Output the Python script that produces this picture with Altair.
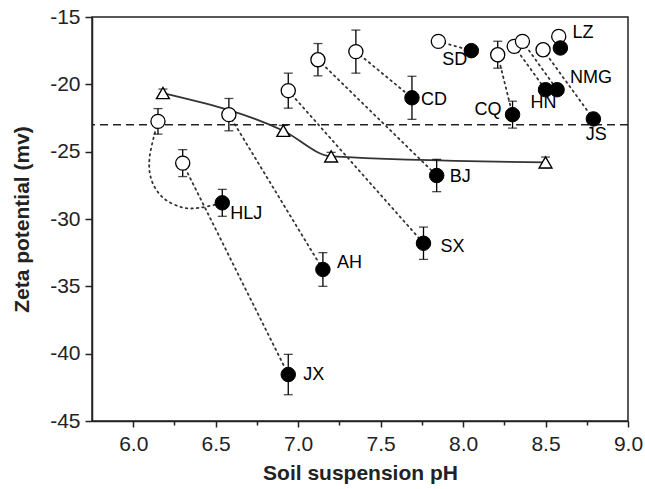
import altair as alt
import pandas as pd

# Soil sites: zeta potential before (open) and after (filled) treatment
sites = ["HLJ", "JX", "AH", "SX", "BJ", "CD", "SD", "CQ", "HN", "NMG", "JS", "LZ"]
ph_before = [6.15, 6.30, 6.58, 6.94, 7.12, 7.35, 7.85, 8.21, 8.31, 8.36, 8.485, 8.58]
zeta_before = [-22.75, -25.85, -22.25, -20.47, -18.17, -17.57, -16.81, -17.80, -17.18, -16.81, -17.43, -16.44]
err_before = [0.95, 1.0, 1.2, 1.3, 1.2, 1.6, 0.3, 1.0, 0.4, 0.4, 0.3, 0.4]
ph_after = [6.54, 6.94, 7.15, 7.76, 7.84, 7.69, 8.05, 8.30, 8.50, 8.57, 8.79, 8.59]
zeta_after = [-28.8, -41.55, -33.75, -31.8, -26.77, -21.0, -17.5, -22.25, -20.4, -20.4, -22.57, -17.3]
err_after = [1.0, 1.5, 1.25, 1.2, 1.2, 1.6, 0.3, 1.0, 0.4, 0.4, 0.4, 0.4]

# Reference series (triangles joined by a solid line)
ref_ph = [6.18, 6.91, 7.20, 8.50]
ref_zeta = [-20.65, -23.45, -25.35, -25.8]
ref_err = [0.3, 0.4, 0.3, 0.4]

# Horizontal threshold line
threshold = -23.0

# Curved connector for HLJ
hlj_path_ph = [6.15, 6.10, 6.11, 6.18, 6.30, 6.41, 6.54]
hlj_path_zeta = [-22.75, -25.34, -27.07, -28.41, -29.15, -29.15, -28.8]

# Label placement: (dx, dy, align)
label_style = {
    "HLJ": (8, 11, "left"),
    "JX": (15, 0, "left"),
    "AH": (14, -7, "left"),
    "SX": (17, 4, "left"),
    "BJ": (13, 1, "left"),
    "CD": (9, 2, "left"),
    "SD": (-4, 9, "right"),
    "CQ": (-11, -5, "right"),
    "HN": (-2, 13, "center"),
    "NMG": (13, -12, "left"),
    "JS": (3, 16, "center"),
    "LZ": (12, -15, "left"),
}

FONT = "Liberation Sans"

pre = pd.DataFrame({"site": sites, "ph": ph_before, "zeta": zeta_before, "err": err_before})
post = pd.DataFrame({"site": sites, "ph": ph_after, "zeta": zeta_after, "err": err_after})
ref = pd.DataFrame({"ph": ref_ph, "zeta": ref_zeta, "err": ref_err})
for d in (pre, post, ref):
    d["lo"] = d["zeta"] - d["err"]
    d["hi"] = d["zeta"] + d["err"]

links = pd.DataFrame({
    "site": sites, "x1": ph_before, "y1": zeta_before, "x2": ph_after, "y2": zeta_after,
})
links = links[links["site"] != "HLJ"]
hlj = pd.DataFrame({"ph": hlj_path_ph, "zeta": hlj_path_zeta, "k": range(len(hlj_path_ph))})

x_vals = [6.0 + 0.25 * i for i in range(13)]
y_vals = [-45 + 2.5 * i for i in range(13)]

x_minor = "abs(datum.value * 2 - round(datum.value * 2)) > 0.01"
y_minor = "datum.value % 5 != 0"

xs = alt.Scale(domain=[5.75, 9.0], nice=False, zero=False)
ys = alt.Scale(domain=[-45, -15], nice=False, zero=False)

x_axis = alt.Axis(
    title="Soil suspension pH", values=x_vals, grid=False,
    labelExpr=f"{x_minor} ? '' : format(datum.value, '.1f')",
    tickSize={"condition": {"test": x_minor, "value": 4}, "value": 6},
    labelFlush=False, labelOverlap=False, labelPadding=6, titlePadding=8,
)
y_axis = alt.Axis(
    title="Zeta potential (mv)", values=y_vals, grid=False,
    labelExpr=f"{y_minor} ? '' : '' + datum.value",
    tickSize={"condition": {"test": y_minor, "value": 4}, "value": 7},
    labelFlush=False, labelOverlap=False, labelPadding=5, titlePadding=17,
)

base_x = alt.X("x1:Q", scale=xs, axis=x_axis)
base_y = alt.Y("y1:Q", scale=ys, axis=y_axis)

dot_style = dict(color="#333333", strokeDash=[1.6, 4.0], strokeWidth=1.8, strokeCap="round")

connectors = alt.Chart(links).mark_rule(**dot_style).encode(
    x=base_x, y=base_y, x2="x2:Q", y2="y2:Q"
)

hlj_curve = alt.Chart(hlj).mark_line(interpolate="cardinal", **dot_style).encode(
    x=alt.X("ph:Q", scale=xs), y=alt.Y("zeta:Q", scale=ys), order="k:Q"
)

thresh = alt.Chart(pd.DataFrame({"t": [threshold]})).mark_rule(
    color="#222222", strokeDash=[8, 5], strokeWidth=1.4
).encode(y=alt.Y("t:Q", scale=ys))

ref_line = alt.Chart(ref).mark_line(
    interpolate="monotone", color="#333333", strokeWidth=1.8
).encode(x=alt.X("ph:Q", scale=xs), y=alt.Y("zeta:Q", scale=ys))


def error_bars(df):
    bars = alt.Chart(df).mark_rule(color="black", strokeWidth=1.3).encode(
        x=alt.X("ph:Q", scale=xs), y=alt.Y("lo:Q", scale=ys), y2="hi:Q"
    )
    caps_lo = alt.Chart(df).mark_tick(
        orient="horizontal", size=9, thickness=1.3, color="black"
    ).encode(x=alt.X("ph:Q", scale=xs), y=alt.Y("lo:Q", scale=ys))
    caps_hi = alt.Chart(df).mark_tick(
        orient="horizontal", size=9, thickness=1.3, color="black"
    ).encode(x=alt.X("ph:Q", scale=xs), y=alt.Y("hi:Q", scale=ys))
    return bars + caps_lo + caps_hi


open_pts = alt.Chart(pre).mark_point(
    shape="circle", size=200, filled=True, fill="white", stroke="black",
    strokeWidth=1.3, opacity=1
).encode(x=alt.X("ph:Q", scale=xs), y=alt.Y("zeta:Q", scale=ys))

filled_pts = alt.Chart(post).mark_point(
    shape="circle", size=210, filled=True, fill="black", stroke="black",
    strokeWidth=1, opacity=1
).encode(x=alt.X("ph:Q", scale=xs), y=alt.Y("zeta:Q", scale=ys))

tri_pts = alt.Chart(ref).mark_point(
    shape="triangle-up", size=165, filled=True, fill="white", stroke="black",
    strokeWidth=1.4, opacity=1
).encode(x=alt.X("ph:Q", scale=xs), y=alt.Y("zeta:Q", scale=ys))

labels = []
for name, (dx, dy, align) in label_style.items():
    labels.append(
        alt.Chart(post[post["site"] == name]).mark_text(
            dx=dx, dy=dy, align=align, baseline="middle",
            font=FONT, fontSize=18, color="black"
        ).encode(x=alt.X("ph:Q", scale=xs), y=alt.Y("zeta:Q", scale=ys), text="site:N")
    )

chart = alt.layer(
    connectors, hlj_curve, thresh, ref_line,
    error_bars(ref), tri_pts,
    error_bars(pre), open_pts,
    error_bars(post), filled_pts,
    *labels,
).properties(
    width=536, height=404,
    autosize=alt.AutoSizeParams(type="none"),
    padding={"left": 92, "top": 17, "right": 17, "bottom": 68},
).configure_view(
    stroke="#222222", strokeWidth=1.5
).configure_axis(
    domainColor="#222222", domainWidth=1.5, tickColor="#222222", tickWidth=1.5,
    labelFont=FONT, labelFontSize=21, labelColor="#222222",
    titleFont=FONT, titleFontSize=21, titleFontWeight="bold", titleColor="#222222",
)

chart.save("out.html", embed_options={"renderer": "svg", "actions": False})
